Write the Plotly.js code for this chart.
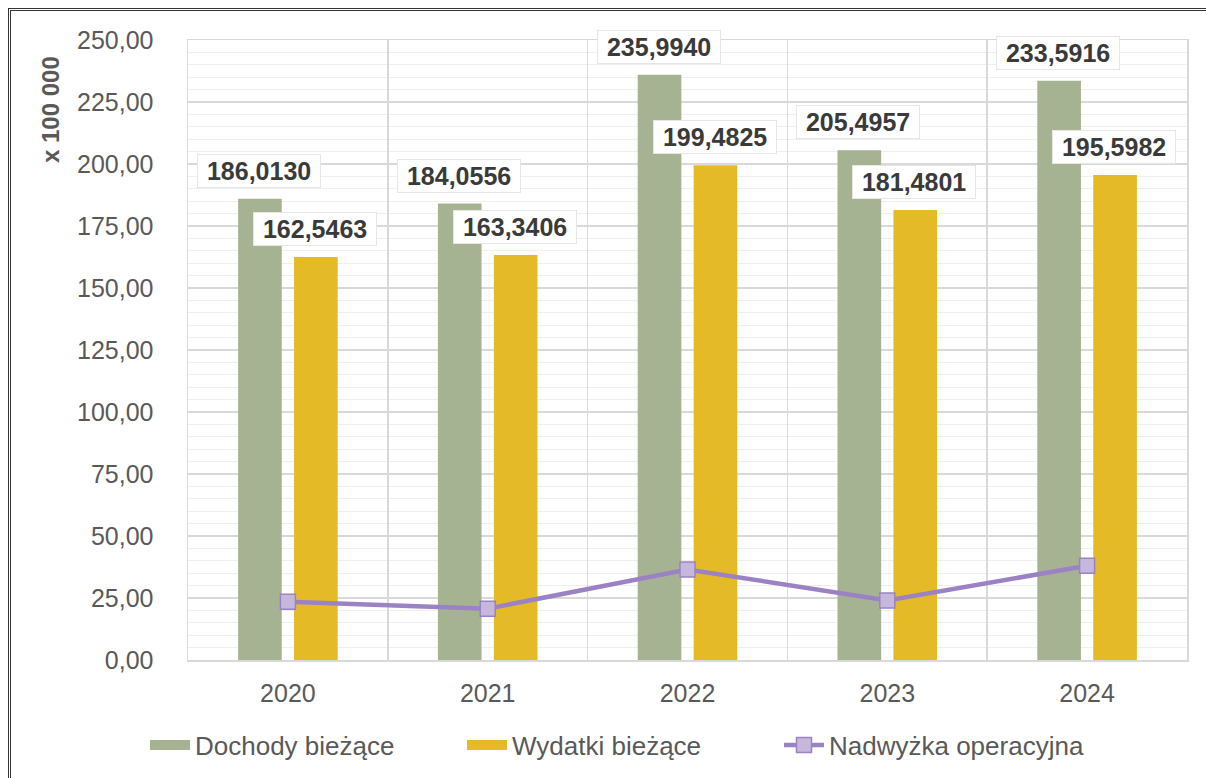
<!DOCTYPE html>
<html>
<head>
<meta charset="utf-8">
<script src="https://cdn.plot.ly/plotly-3.0.1.min.js"></script>
<style>
  html, body { margin: 0; padding: 0; background: #ffffff; overflow: hidden; }
  #chart { width: 1206px; height: 778px; position: absolute; left: 0; top: 0; }
  #frame { position: absolute; left: 8px; top: 8px; width: 1300px; height: 900px;
           border-left: 3px double #333; border-top: 3px double #333; pointer-events: none; }
</style>
</head>
<body>
<div id="chart"></div>
<div id="frame"></div>
<script>
const years = ['2020', '2021', '2022', '2023', '2024'];
const dochody = [186.0130, 184.0556, 235.9940, 205.4957, 233.5916];
const wydatki = [162.5463, 163.3406, 199.4825, 181.4801, 195.5982];
const nadwyzka = [23.4667, 20.7150, 36.5115, 24.0156, 37.9934];
const seriesNames = ['Dochody bieżące', 'Wydatki bieżące', 'Nadwyżka operacyjna'];
const yTitle = 'x 100 000';

const cGreen = '#A6B393';
const cGold = '#E5BA27';
const cPurple = '#9B82C4';
const cPurpleFill = '#C5B8DC';
const font = 'Liberation Sans, Arial, sans-serif';

const fmt = v => '\u00a0' + v.toFixed(4).replace('.', ',') + '\u00a0';

const traces = [
  { type: 'bar', name: seriesNames[0], x: years, y: dochody, marker: { color: cGreen }, showlegend: false },
  { type: 'bar', name: seriesNames[1], x: years, y: wydatki, marker: { color: cGold }, showlegend: false },
  // legend-only swatches (long rectangles like the reference)
  { type: 'scatter', mode: 'lines', name: seriesNames[0], x: [null], y: [null],
    line: { color: cGreen, width: 14 }, legendrank: 1 },
  { type: 'scatter', mode: 'lines', name: seriesNames[1], x: [null], y: [null],
    line: { color: cGold, width: 14 }, legendrank: 2 },
  { type: 'scatter', mode: 'lines+markers', name: seriesNames[2], x: years, y: nadwyzka,
    line: { color: cPurple, width: 4.5 }, legendrank: 3,
    marker: { symbol: 'square', size: 15, color: cPurpleFill, line: { color: cPurple, width: 1.5 } } }
];

const annotations = [];
function addLabels(vals, shift) {
  vals.forEach((v, i) => {
    annotations.push({
      x: i, y: v, xref: 'x', yref: 'y', showarrow: false,
      text: fmt(v), xshift: shift, yshift: 28,
      font: { family: font, size: 25, color: '#3A3A3A', weight: 'bold' },
      bgcolor: '#FFFFFF', bordercolor: '#E6E6E6', borderwidth: 1, borderpad: 2
    });
  });
}
addLabels(dochody, -29);
addLabels(wydatki, 27);

annotations.push({
  xref: 'paper', yref: 'paper', x: -138 / 999, y: 1 - 70 / 620,
  xanchor: 'center', yanchor: 'middle', showarrow: false, textangle: -90,
  text: '<b>' + yTitle + '</b>',
  font: { family: font, size: 24, color: '#595959' }
});

const layout = {
  width: 1206, height: 778,
  margin: { l: 188, r: 19, t: 40, b: 118 },
  paper_bgcolor: '#FFFFFF', plot_bgcolor: '#FFFFFF',
  separators: ', ',
  barmode: 'group', bargap: 0.44, bargroupgap: 0.22,
  showlegend: true,
  legend: {
    orientation: 'h', xref: 'container', yref: 'container',
    x: 145 / 1206, xanchor: 'left', y: 1 - 745 / 778, yanchor: 'middle',
    font: { family: font, size: 26, color: '#595959' },
    itemwidth: 40, tracegroupgap: 0,
    entrywidth: 262, entrywidthmode: 'pixels'
  },
  xaxis: {
    type: 'category', tickson: 'boundaries', ticks: '',
    range: [-0.5, 4.5],
    showgrid: true, gridcolor: '#D9D9D9', gridwidth: 1.5,
    showline: true, linecolor: '#D9D9D9', linewidth: 1.5, mirror: true,
    tickfont: { family: font, size: 25, color: '#595959' },
    ticklabelstandoff: 10, zeroline: false, fixedrange: true
  },
  yaxis: {
    range: [0, 250], dtick: 25, tick0: 0, tickformat: '.2f', ticks: '',
    showgrid: true, gridcolor: '#D9D9D9', gridwidth: 1.5,
    minor: { dtick: 5, showgrid: true, gridcolor: '#EFEFEF', gridwidth: 1 },
    showline: true, linecolor: '#D9D9D9', linewidth: 1.5, mirror: true,
    zeroline: false,
    tickfont: { family: font, size: 25, color: '#595959' },
    ticklabelstandoff: 28, fixedrange: true
  },
  annotations: annotations
};

Plotly.newPlot('chart', traces, layout, { displayModeBar: false, staticPlot: true });
</script>
</body>
</html>
